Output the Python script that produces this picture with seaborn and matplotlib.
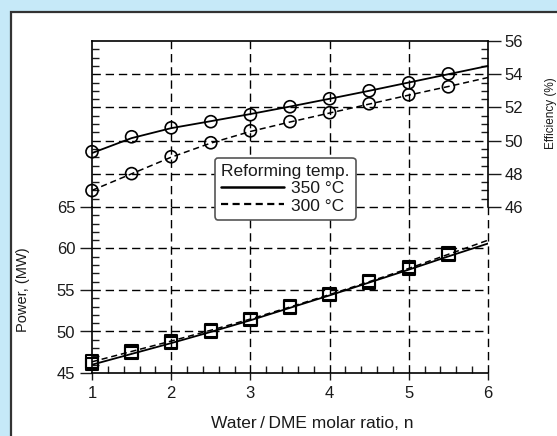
import matplotlib
matplotlib.use('Agg')
import matplotlib.pyplot as plt
from matplotlib.lines import Line2D
from matplotlib.patches import Rectangle
from matplotlib.ticker import MultipleLocator
import numpy as np
import pandas as pd
import seaborn as sns

# data
ratio_pts = [1.0, 1.5, 2.0, 2.5, 3.0, 3.5, 4.0, 4.5, 5.0, 5.5]
eff_350 = [49.33, 50.23, 50.77, 51.14, 51.56, 52.04, 52.52, 53.0, 53.48, 54.02]
eff_300 = [46.99, 48.01, 49.03, 49.87, 50.59, 51.14, 51.68, 52.22, 52.76, 53.24]
power_350 = [46.1, 47.4, 48.6, 50.0, 51.4, 52.9, 54.4, 55.9, 57.5, 59.2]
power_300 = [46.4, 47.6, 48.8, 50.1, 51.5, 53.0, 54.5, 56.1, 57.8, 59.4]

# fitted curves (with the end value at n = 6)
ratio_curve = [1.0, 1.5, 2.0, 2.5, 3.0, 3.5, 4.0, 4.5, 5.0, 5.5, 6.0]
eff_350_curve = [49.25, 50.15, 50.75, 51.17, 51.6, 52.05, 52.52, 53.0, 53.5, 54.0, 54.5]
eff_300_curve = [47.0, 48.0, 49.0, 49.85, 50.55, 51.12, 51.66, 52.2, 52.74, 53.26, 53.8]
power_350_curve = [46.0, 47.3, 48.6, 49.95, 51.35, 52.85, 54.35, 55.9, 57.45, 59.05, 60.6]
power_300_curve = [46.35, 47.6, 48.85, 50.15, 51.5, 52.95, 54.45, 56.0, 57.6, 59.3, 61.0]

legend_labels = ['350 \u00b0C', '300 \u00b0C']
legend_title = 'Reforming temp.'

sns.set_style('white')
plt.rcParams['font.family'] = ['Liberation Sans', 'DejaVu Sans']
plt.rcParams['font.size'] = 12
ink = '#1a1a1a'

fig = plt.figure(figsize=(5.57, 4.36), dpi=100)
fig.patch.set_facecolor('#c6e9f8')
fig.patches.append(Rectangle((10.5 / 557, -0.1), 1.2, 1 - 12.5 / 436 + 0.1,
                             transform=fig.transFigure, facecolor='white',
                             edgecolor='#333333', lw=1.6, zorder=-10))

left, width = 92 / 557, 396 / 557
y_top, y_mid, y_bot = 1 - 41 / 436, 1 - 207 / 436, 1 - 373 / 436
ax_e = fig.add_axes([left, y_mid, width, y_top - y_mid])
ax_p = fig.add_axes([left, y_bot, width, y_mid - y_bot])
for ax in (ax_e, ax_p):
    ax.set_facecolor('none')

grid_kw = dict(color='black', lw=1.0, ls=(0, (6, 3.5)), zorder=0)

# efficiency (upper half)
sns.lineplot(x=ratio_curve, y=eff_350_curve, ax=ax_e, color='black', lw=1.3, zorder=3)
sns.lineplot(x=ratio_curve, y=eff_300_curve, ax=ax_e, color='black', lw=1.1,
             ls=(0, (4, 2.5)), zorder=3)
for vals in (eff_350, eff_300):
    sns.scatterplot(x=ratio_pts, y=vals, ax=ax_e, marker='o', s=75, clip_on=False,
                    facecolors='none', edgecolors='black', linewidths=1.2, zorder=4)

# power (lower half)
sns.lineplot(x=ratio_curve, y=power_350_curve, ax=ax_p, color='black', lw=1.3, zorder=3)
sns.lineplot(x=ratio_curve, y=power_300_curve, ax=ax_p, color='black', lw=1.1,
             ls=(0, (4, 2.5)), zorder=3)
for vals in (power_350, power_300):
    sns.scatterplot(x=ratio_pts, y=vals, ax=ax_p, marker='s', s=80, clip_on=False,
                    facecolors='none', edgecolors='black', linewidths=1.5, zorder=4)

for ax in (ax_e, ax_p):
    ax.set_xlim(1, 6)
    ax.xaxis.set_major_locator(MultipleLocator(1))
    ax.xaxis.set_minor_locator(MultipleLocator(0.2))
    for xv in [2, 3, 4, 5]:
        ax.axvline(xv, **grid_kw)
    for s in ax.spines.values():
        s.set_color('black')
        s.set_linewidth(1.2)

ax_e.set_ylim(46, 56)
ax_e.yaxis.set_major_locator(MultipleLocator(2))
ax_e.yaxis.set_minor_locator(MultipleLocator(0.5))
for yv in [48, 50, 52, 54]:
    ax_e.axhline(yv, **grid_kw)
ax_e.spines['bottom'].set_visible(False)
ax_e.tick_params(axis='x', which='both', bottom=False, top=False, labelbottom=False)
ax_e.tick_params(axis='y', which='both', left=True, right=True, labelleft=False,
                 labelright=True, colors=ink, labelcolor=ink)
ax_e.tick_params(axis='y', which='minor', direction='in', length=5, width=1)
ax_e.tick_params(axis='y', which='major', direction='out', length=9, width=1, pad=3)
for t in ax_e.yaxis.get_major_ticks():
    t.tick1line.set_visible(False)
ax_e.set_ylabel('Efficiency (%)', color=ink, fontsize=8.5)
ax_e.yaxis.set_label_position('right')
ax_e.yaxis.set_label_coords(1.143, 0.566)

ax_p.set_ylim(45, 65)
ax_p.yaxis.set_major_locator(MultipleLocator(5))
ax_p.yaxis.set_minor_locator(MultipleLocator(1))
for yv in [50, 55, 60]:
    ax_p.axhline(yv, **grid_kw)
ax_p.axhline(65, clip_on=False, **grid_kw)
ax_p.axvline(6, clip_on=False, **grid_kw)
ax_p.spines['top'].set_visible(False)
ax_p.spines['right'].set_visible(False)
ax_p.tick_params(axis='y', which='both', left=True, right=False, colors=ink, labelcolor=ink)
ax_p.tick_params(axis='y', which='minor', direction='in', length=5, width=1)
ax_p.tick_params(axis='y', which='major', direction='out', length=9, width=1, pad=3)
ax_p.tick_params(axis='x', which='both', bottom=True, top=False, colors=ink, labelcolor=ink)
ax_p.tick_params(axis='x', which='minor', direction='in', length=5, width=1)
ax_p.tick_params(axis='x', which='major', direction='out', length=5, width=1, pad=4)
ax_p.set_ylabel('Power, (MW)', color=ink, fontsize=10.5)
ax_p.yaxis.set_label_coords(-0.157, 0.5)
ax_p.set_xlabel('Water\u2009/\u2009DME molar ratio, n', color=ink, fontsize=12.5)
ax_p.xaxis.set_label_coords(0.555, -0.26)

handles = [Line2D([], [], color='black', lw=1.8),
           Line2D([], [], color='black', lw=1.6, ls=(0, (3.2, 2)))]
leg = fig.legend(handles, legend_labels, title=legend_title, loc='upper left',
                 bbox_to_anchor=(215 / 557, 1 - 158 / 436), borderaxespad=0,
                 frameon=True, fancybox=True, handlelength=3.6, handletextpad=0.4,
                 borderpad=0.35, labelspacing=0.12, title_fontsize=12.5,
                 fontsize=12.5, alignment='left', framealpha=1)
leg.get_frame().set_edgecolor('#555555')
leg.get_frame().set_linewidth(1.2)
for t in leg.get_texts():
    t.set_color(ink)
leg.get_title().set_color(ink)

fig.savefig('out.png', dpi=100, facecolor=fig.get_facecolor())
